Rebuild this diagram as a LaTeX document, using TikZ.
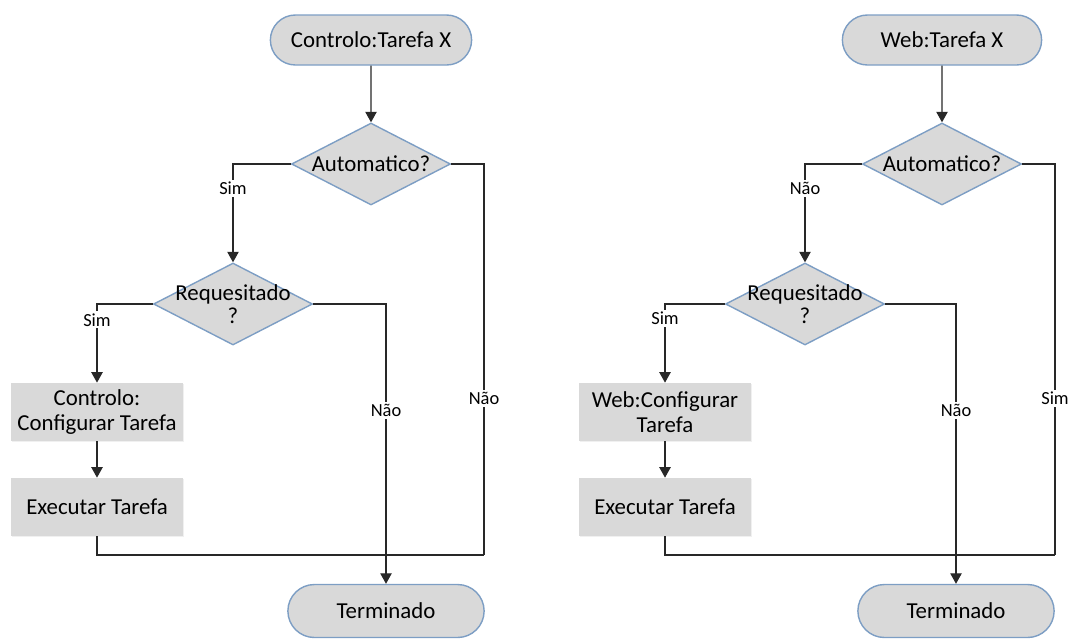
\documentclass[tikz,border=0pt]{standalone}
\usepackage{fontspec}
\setmainfont{Carlito}
\usetikzlibrary{shapes.geometric,shapes.misc,arrows.meta,shadows}
\definecolor{cinza}{RGB}{217,217,217}
\definecolor{borda}{RGB}{125,158,196}
\definecolor{traco}{RGB}{40,40,40}
\begin{document}
\begin{tikzpicture}[x=0.02cm,y=-0.02cm,
	terminal/.style={rounded rectangle, draw=borda, line width=0.8pt, fill=cinza, minimum width=4.26cm, minimum height=1.0cm, font=\fontsize{13}{15}\selectfont},
	decisao/.style={diamond, draw=borda, line width=0.8pt, fill=cinza, minimum width=3.18cm, minimum height=1.64cm, inner sep=0pt},
	texto/.style={inner sep=0pt, align=center, font=\fontsize{13}{13.5}\selectfont},
	caixa/.style={rectangle, fill=cinza, minimum width=3.44cm, minimum height=1.16cm, align=center, font=\fontsize{13}{14}\selectfont, drop shadow={opacity=0.12, shadow xshift=0.6pt, shadow yshift=-0.6pt}},
	linha/.style={draw=traco, line width=0.7pt},
	seta/.style={linha, -{Triangle[width=6.5pt,length=6pt]}},
	rotulo/.style={fill=white, inner sep=1.2pt, font=\fontsize{10.5}{12}\selectfont}]
\useasboundingbox (0,0) rectangle (1068,640);
% Fluxograma esquerdo
	% Nos
	\node[terminal] (ini1) at (371,40) {Controlo:Tarefa X};
	\node[decisao] (aut1) at (371,164) {};
	\node[texto] (aut1t) at (aut1) {Automatico?};
	\node[decisao] (req1) at (233,304) {};
	\node[texto] (req1t) at (req1) {Requesitado\\?};
	\node[caixa] (cfg1) at (97,412) {Controlo:\\Configurar Tarefa};
	\node[caixa] (exe1) at (97,507) {Executar Tarefa};
	\node[terminal, minimum width=4.16cm, minimum height=1.06cm] (fim1) at (386,611) {Terminado};
	\coordinate (c1) at (484,555);
	% Ligacoes
	\draw[seta] (ini1) -- (aut1);
	\draw[seta] (aut1.west) -| node[rotulo, pos=0.625] {Sim} (req1.north);
	\draw[linha] (aut1.east) -| node[rotulo, pos=0.80] {Não} (c1);
	\draw[seta] (req1.west) -| node[rotulo, pos=0.60] {Sim} (cfg1.north);
	\draw[seta] (cfg1) -- (exe1);
	\draw[linha] (exe1.south) |- (c1);
	\draw[seta] (req1.east) -| node[rotulo, pos=0.69] {Não} (fim1.north);
% Fluxograma direito
	% Nos
	\node[terminal, minimum width=4.22cm] (ini2) at (942,40) {Web:Tarefa X};
	\node[decisao] (aut2) at (942,164) {};
	\node[texto] (aut2t) at (aut2) {Automatico?};
	\node[decisao] (req2) at (805,304) {};
	\node[texto] (req2t) at (req2) {Requesitado\\?};
	\node[caixa] (cfg2) at (665,412) {Web:Configurar\\Tarefa};
	\node[caixa] (exe2) at (665,507) {Executar Tarefa};
	\node[terminal, minimum width=4.16cm, minimum height=1.06cm] (fim2) at (956,611) {Terminado};
	\coordinate (c2) at (1055,555);
	% Ligacoes
	\draw[seta] (ini2) -- (aut2);
	\draw[seta] (aut2.west) -| node[rotulo, pos=0.625] {Não} (req2.north);
	\draw[linha] (aut2.east) -| node[rotulo, pos=0.80] {Sim} (c2);
	\draw[seta] (req2.west) -| node[rotulo, pos=0.59] {Sim} (cfg2.north);
	\draw[seta] (cfg2) -- (exe2);
	\draw[linha] (exe2.south) |- (c2);
	\draw[seta] (req2.east) -| node[rotulo, pos=0.69] {Não} (fim2.north);
\end{tikzpicture}
\end{document}
